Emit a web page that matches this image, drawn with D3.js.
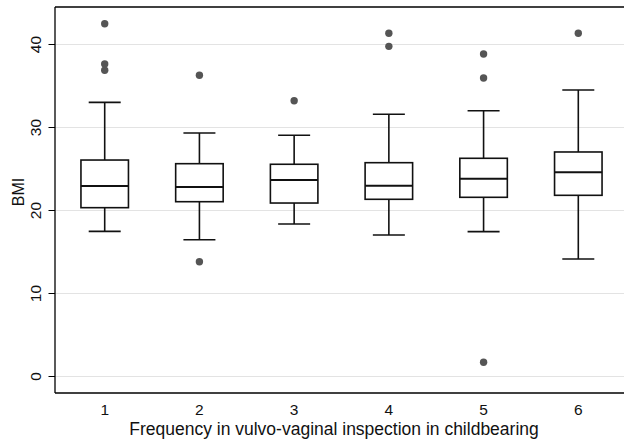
<!DOCTYPE html>
<html><head><meta charset="utf-8">
<script src="https://cdn.jsdelivr.net/npm/d3@7"></script>
<style>body{margin:0;background:#fff}svg{display:block}</style>
</head><body>
<script>
const categories = ["1","2","3","4","5","6"];
const q1 = [20.34, 21.06, 20.9, 21.35, 21.59, 21.83];
const medians = [22.95, 22.83, 23.67, 22.99, 23.83, 24.6];
const q3 = [26.08, 25.64, 25.57, 25.76, 26.29, 27.05];
const whiskerLow = [17.49, 16.48, 18.37, 17.05, 17.45, 14.16];
const whiskerHigh = [33.03, 29.34, 29.06, 31.59, 32.02, 34.52];
const outliers = [
  [42.5, 37.65, 36.9],
  [36.3, 13.83],
  [33.23],
  [41.35, 39.78],
  [38.86, 35.96, 1.71],
  [41.35]
];
const yTicks = [0, 10, 20, 30, 40];
const xTitle = "Frequency in vulvo-vaginal inspection in childbearing";
const yTitle = "BMI";

(function () {
const W = 624, H = 439;
const pLeft = 55, pTop = 7, pBottom = 393;
const svg = d3.select("body").append("svg").attr("width", W).attr("height", H)
  .style("font-family", "'Liberation Sans', Arial, sans-serif");

const y = d3.scaleLinear().domain([0, 40]).range([376.5, 44.5]);
const x = d3.scaleLinear().domain([1, 6]).range([104.7, 578.3]);

// gridlines
svg.append("g").selectAll("line").data(yTicks).join("line")
  .attr("x1", pLeft).attr("x2", W + 10)
  .attr("y1", d => y(d)).attr("y2", d => y(d))
  .attr("stroke", "#e3e3e3").attr("stroke-width", 1.2);

// frame
svg.append("line").attr("x1", pLeft).attr("x2", W + 10).attr("y1", pTop).attr("y2", pTop)
  .attr("stroke", "#000").attr("stroke-width", 1.3);
svg.append("line").attr("x1", pLeft).attr("x2", W + 10).attr("y1", pBottom).attr("y2", pBottom)
  .attr("stroke", "#000").attr("stroke-width", 1.3);
svg.append("line").attr("x1", pLeft).attr("x2", pLeft).attr("y1", pTop).attr("y2", pBottom)
  .attr("stroke", "#000").attr("stroke-width", 1.3);

// y axis ticks and labels
const yAxis = svg.append("g");
yAxis.selectAll("line").data(yTicks).join("line")
  .attr("x1", pLeft - 6.5).attr("x2", pLeft)
  .attr("y1", d => y(d)).attr("y2", d => y(d))
  .attr("stroke", "#000").attr("stroke-width", 1);
yAxis.selectAll("text").data(yTicks).join("text")
  .attr("transform", d => `translate(40.5,${y(d)}) rotate(-90)`)
  .attr("text-anchor", "middle").attr("font-size", 15.5).attr("fill", "#111")
  .text(d => d);

svg.append("text").attr("transform", `translate(24,192) rotate(-90)`)
  .attr("text-anchor", "middle").attr("font-size", 16).attr("fill", "#111").text(yTitle);

// x tick labels
svg.append("g").selectAll("text").data(categories).join("text")
  .attr("x", (d, i) => x(i + 1)).attr("y", 415)
  .attr("text-anchor", "middle").attr("font-size", 15.5).attr("fill", "#111")
  .text(d => d);
svg.append("text").attr("x", 334).attr("y", 435).attr("text-anchor", "middle")
  .attr("font-size", 17.5).attr("fill", "#111").text(xTitle);

// boxes
const boxW = 47.5, capW = 32;
const g = svg.append("g").attr("stroke", "#111").attr("fill", "none");
categories.forEach((c, i) => {
  const cx = x(i + 1);
  const gg = g.append("g");
  gg.append("line").attr("x1", cx).attr("x2", cx).attr("y1", y(q3[i])).attr("y2", y(whiskerHigh[i])).attr("stroke-width", 1.6);
  gg.append("line").attr("x1", cx).attr("x2", cx).attr("y1", y(q1[i])).attr("y2", y(whiskerLow[i])).attr("stroke-width", 1.6);
  gg.append("line").attr("x1", cx - capW / 2).attr("x2", cx + capW / 2).attr("y1", y(whiskerHigh[i])).attr("y2", y(whiskerHigh[i])).attr("stroke-width", 1.6);
  gg.append("line").attr("x1", cx - capW / 2).attr("x2", cx + capW / 2).attr("y1", y(whiskerLow[i])).attr("y2", y(whiskerLow[i])).attr("stroke-width", 1.6);
  gg.append("rect").attr("x", cx - boxW / 2).attr("width", boxW)
    .attr("y", y(q3[i])).attr("height", y(q1[i]) - y(q3[i]))
    .attr("fill", "#fff").attr("stroke-width", 1.6);
  gg.append("line").attr("x1", cx - boxW / 2).attr("x2", cx + boxW / 2).attr("y1", y(medians[i])).attr("y2", y(medians[i])).attr("stroke-width", 2);
  gg.selectAll("circle").data(outliers[i]).join("circle")
    .attr("cx", cx).attr("cy", d => y(d)).attr("r", 3.7)
    .attr("fill", "#555").attr("stroke", "none");
});
})();
</script>
</body></html>
